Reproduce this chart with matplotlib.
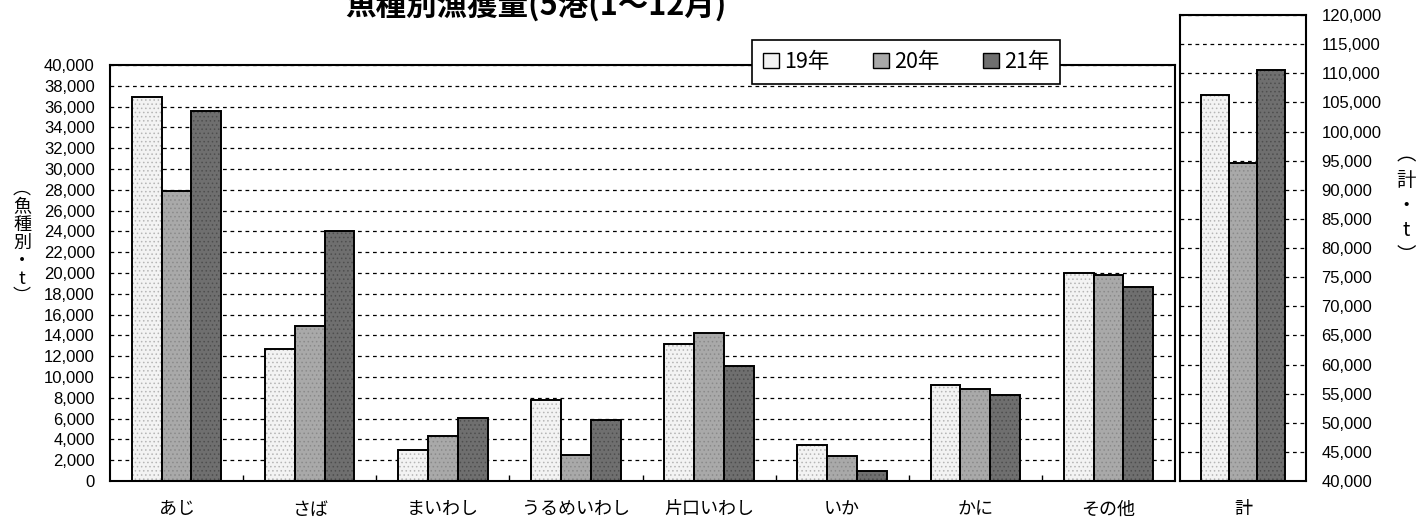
import matplotlib
matplotlib.use("Agg")
import matplotlib.pyplot as plt
from matplotlib.patches import Patch
from matplotlib.ticker import FuncFormatter, MultipleLocator, FixedLocator
import numpy as np

plt.rcParams['font.family'] = ['Liberation Sans', 'Noto Sans CJK JP', 'DejaVu Sans']
plt.rcParams['hatch.linewidth'] = 0.6

# Catch by species (t)
categories = ['あじ', 'さば', 'まいわし', 'うるめいわし', '片口いわし', 'いか', 'かに', 'その他']
years = ['19年', '20年', '21年']
catch_19 = [36900, 12700, 3000, 7800, 13200, 3500, 9200, 20000]
catch_20 = [27900, 14900, 4300, 2500, 14200, 2400, 8800, 19800]
catch_21 = [35600, 24000, 6100, 5900, 11100, 1000, 8300, 18700]
total_label = '計'
totals = [106200, 94600, 110600]

faces = ['#f3f3f3', '#a9a9a9', '#6f6f6f']
hatch_cols = ['#b5b5b5', '#8a8a8a', '#4e4e4e']
hatches = ['....', '....', '....']

W, H = 1425, 523
fig = plt.figure(figsize=(W / 100, H / 100), dpi=100)

def box(l, t, r, b):
    return [l / W, 1 - b / H, (r - l) / W, (b - t) / H]

ax = fig.add_axes(box(110, 65, 1175, 481))
axr = fig.add_axes(box(1180, 15, 1306, 481))

bw = 0.224
fmt = FuncFormatter(lambda v, p: f'{int(v):,}')
cjk = ['Noto Sans CJK JP', 'DejaVu Sans']


def draw_bars(a, xs, series):
    for i, vals in enumerate(series):
        pos = xs + (i - 1) * bw
        a.bar(pos, vals, bw, color=faces[i], edgecolor=hatch_cols[i],
              hatch=hatches[i], linewidth=0, zorder=2)
        a.bar(pos, vals, bw, fill=False, edgecolor='black', linewidth=1.4, zorder=3)


x = np.arange(len(categories))
draw_bars(ax, x, [catch_19, catch_20, catch_21])
ax.set_xlim(-0.5, len(categories) - 0.5)
ax.set_ylim(0, 40000)
ax.yaxis.set_major_locator(MultipleLocator(2000))
ax.yaxis.set_major_formatter(fmt)
ax.set_xticks(x)
ax.set_xticklabels(categories, fontsize=13, family=cjk)
ax.xaxis.set_minor_locator(FixedLocator(np.arange(0.5, len(categories) - 0.5, 1)))
ax.tick_params(axis='x', which='major', length=0, pad=14)
ax.tick_params(axis='x', which='minor', direction='in', length=4, width=1)
ax.tick_params(axis='y', length=0, pad=11, labelsize=12)
ax.grid(axis='y', color='black', linestyle=(0, (3, 3)), linewidth=0.9, zorder=1)
for s in ax.spines.values():
    s.set_linewidth(1.5)

xr = np.array([0])
draw_bars(axr, xr, [[totals[0]], [totals[1]], [totals[2]]])
axr.set_xlim(-0.5, 0.5)
axr.set_ylim(40000, 120000)
axr.yaxis.set_major_locator(MultipleLocator(5000))
axr.yaxis.set_major_formatter(fmt)
axr.yaxis.tick_right()
axr.set_xticks([0])
axr.set_xticklabels([total_label], fontsize=13, family=cjk)
axr.tick_params(axis='x', length=0, pad=14)
axr.tick_params(axis='y', length=0, pad=11, labelsize=12)
axr.grid(axis='y', color='black', linestyle=(0, (3, 3)), linewidth=0.9, zorder=1)
for s in axr.spines.values():
    s.set_linewidth(1.5)

# Axis captions, stacked vertically
fig.text(22 / W, 1 - 243 / H, '︵\n魚\n種\n別\n・\nt\n︶', ha='center', va='center',
         fontsize=13, linespacing=1.0, family=cjk)
fig.text(1406 / W, 1 - 205 / H, '︵\n計\n・\nt\n︶', ha='center', va='center',
         fontsize=14, linespacing=1.25, family=cjk)

# Title
fig.text(345 / W, 1 - 15 / H, '魚種別漁獲量(5港(1～12月)', ha='left', va='baseline',
         fontsize=22, fontweight='bold', family=cjk)

handles = [Patch(facecolor=faces[i], edgecolor='black', linewidth=1) for i in range(3)]
leg = fig.legend(handles, years, loc='center', bbox_to_anchor=(906 / W, 1 - 62 / H),
                 ncol=3, frameon=True, fancybox=False,
                 edgecolor='black', framealpha=1, handlelength=0.75, handleheight=0.75,
                 handletextpad=0.25, columnspacing=2.0, borderpad=0.5,
                 prop={'family': cjk, 'size': 15.5})
leg.get_frame().set_linewidth(1.2)
leg.set_zorder(10)

fig.savefig('out.png', dpi=100)
